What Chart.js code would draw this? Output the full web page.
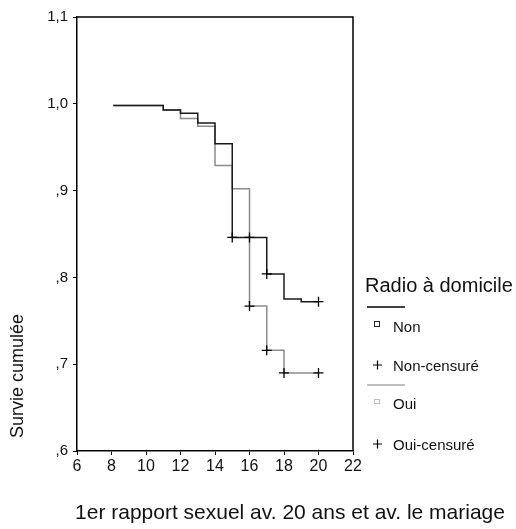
<!DOCTYPE html>
<html>
<head>
<meta charset="utf-8">
<script src="https://cdn.jsdelivr.net/npm/chart.js@4/dist/chart.umd.min.js"></script>
<style>
  html, body { margin: 0; padding: 0; background: #fff; }
  #wrap { width: 516px; height: 529px; }
</style>
</head>
<body>
<div id="wrap"><canvas id="survivalChart" width="516" height="529"></canvas></div>
<script>
// Kaplan-Meier steps
const nonTimes = [8.1, 11, 12, 13, 14, 15, 17, 18, 19, 20];
const nonSurvival = [0.998, 0.993, 0.989, 0.978, 0.954, 0.846, 0.804, 0.775, 0.772, 0.772];
const ouiTimes = [8.1, 11, 12, 13, 14, 15, 16, 17, 18, 20];
const ouiSurvival = [0.998, 0.993, 0.983, 0.974, 0.929, 0.902, 0.767, 0.716, 0.69, 0.69];

// censored observations (+)
const nonCensorTimes = [15, 16, 17, 20];
const nonCensorValues = [0.846, 0.846, 0.804, 0.772];
const ouiCensorTimes = [16, 17, 18, 20];
const ouiCensorValues = [0.767, 0.716, 0.69, 0.69];

const xTicks = [6, 8, 10, 12, 14, 16, 18, 20, 22];
const yTicks = [0.6, 0.7, 0.8, 0.9, 1.0, 1.1];

const legendTitle = 'Radio à domicile';
const legendLabels = ['Non', 'Non-censuré', 'Oui', 'Oui-censuré'];
const xTitle = '1er rapport sexuel av. 20 ans et av. le mariage';
const yTitle = 'Survie cumulée';

const FONT = '"Liberation Sans", Arial, sans-serif';

function toPoints(xs, ys) {
    return xs.map((x, i) => ({ x: x, y: ys[i] }));
}

function formatY(v) {
    // SPSS style: 1,0 / ,9
    const s = v.toFixed(1).replace('.', ',');
    return s.startsWith('0') ? s.slice(1) : s;
}

// frame, axis titles and legend
const decorPlugin = {
    id: 'decor',
    afterDraw(chart) {
        const ctx = chart.ctx;
        const a = chart.chartArea;
        ctx.save();
        ctx.strokeStyle = '#000';
        ctx.lineWidth = 1.5;
        ctx.beginPath();
        ctx.moveTo(a.left, a.top);
        ctx.lineTo(a.right, a.top);
        ctx.lineTo(a.right, a.bottom);
        ctx.stroke();

        ctx.fillStyle = '#111';
        ctx.font = '21px ' + FONT;
        ctx.textAlign = 'center';
        ctx.textBaseline = 'middle';
        ctx.fillText(xTitle, 290, 513);

        ctx.font = '18px ' + FONT;
        ctx.save();
        ctx.translate(18, 376);
        ctx.rotate(-Math.PI / 2);
        ctx.fillText(yTitle, 0, 0);
        ctx.restore();

        // legend
        ctx.textAlign = 'left';
        ctx.font = '20px ' + FONT;
        ctx.fillText(legendTitle, 365, 286);

        ctx.lineWidth = 1.5;
        ctx.strokeStyle = '#000';
        ctx.beginPath();
        ctx.moveTo(367, 307);
        ctx.lineTo(405, 307);
        ctx.stroke();

        ctx.strokeStyle = '#aaa';
        ctx.beginPath();
        ctx.moveTo(367, 385);
        ctx.lineTo(405, 385);
        ctx.stroke();

        ctx.font = '15px ' + FONT;
        const rows = [328, 367, 405, 446];
        legendLabels.forEach((lab, i) => ctx.fillText(lab, 393, rows[i]));

        ctx.lineWidth = 1;
        ctx.strokeStyle = '#222';
        ctx.strokeRect(374.5, 321.5, 5, 5);
        ctx.strokeStyle = '#bbb';
        ctx.strokeRect(374.5, 399.5, 5, 4);

        ctx.strokeStyle = '#000';
        ctx.lineWidth = 1.2;
        [365, 444].forEach(y => {
            ctx.beginPath();
            ctx.moveTo(373, y); ctx.lineTo(382, y);
            ctx.moveTo(377.5, y - 4.5); ctx.lineTo(377.5, y + 4.5);
            ctx.stroke();
        });
        ctx.restore();
    }
};

const ctx = document.getElementById('survivalChart').getContext('2d');

new Chart(ctx, {
    type: 'line',
    data: {
        datasets: [
            {
                label: 'Non-censuré',
                type: 'scatter',
                data: toPoints(nonCensorTimes, nonCensorValues),
                pointStyle: 'cross',
                pointRadius: 5,
                borderColor: '#000',
                borderWidth: 1.3,
                showLine: false
            },
            {
                label: 'Oui-censuré',
                type: 'scatter',
                data: toPoints(ouiCensorTimes, ouiCensorValues),
                pointStyle: 'cross',
                pointRadius: 5,
                borderColor: '#000',
                borderWidth: 1.3,
                showLine: false
            },
            {
                label: 'Non',
                data: toPoints(nonTimes, nonSurvival),
                borderColor: '#1a1a1a',
                borderWidth: 1.5,
                stepped: 'before',
                pointRadius: 0,
                fill: false
            },
            {
                label: 'Oui',
                data: toPoints(ouiTimes, ouiSurvival),
                borderColor: '#8c8c8c',
                borderWidth: 1.5,
                stepped: 'before',
                pointRadius: 0,
                fill: false
            }
        ]
    },
    options: {
        responsive: false,
        animation: false,
        layout: { padding: { top: 17, right: 163, left: 0, bottom: 0 } },
        plugins: {
            legend: { display: false },
            tooltip: { enabled: false }
        },
        scales: {
            x: {
                type: 'linear',
                min: 6,
                max: 22,
                afterFit: axis => { axis.height = 78; },
                afterBuildTicks: axis => { axis.ticks = xTicks.map(v => ({ value: v })); },
                grid: { drawOnChartArea: false, drawTicks: true, tickLength: 4, color: '#000' },
                border: { display: true, color: '#000', width: 1.5 },
                ticks: {
                    color: '#111',
                    padding: 2,
                    font: { family: FONT, size: 16 },
                    maxRotation: 0
                }
            },
            y: {
                type: 'linear',
                min: 0.6,
                max: 1.1,
                afterFit: axis => { axis.width = 77; },
                afterBuildTicks: axis => { axis.ticks = yTicks.map(v => ({ value: v })); },
                grid: { drawOnChartArea: false, drawTicks: true, tickLength: 4, color: '#000' },
                border: { display: true, color: '#000', width: 1.5 },
                ticks: {
                    color: '#111',
                    padding: 5,
                    font: { family: FONT, size: 15 },
                    callback: value => formatY(value)
                }
            }
        }
    },
    plugins: [decorPlugin]
});
</script>
</body>
</html>
